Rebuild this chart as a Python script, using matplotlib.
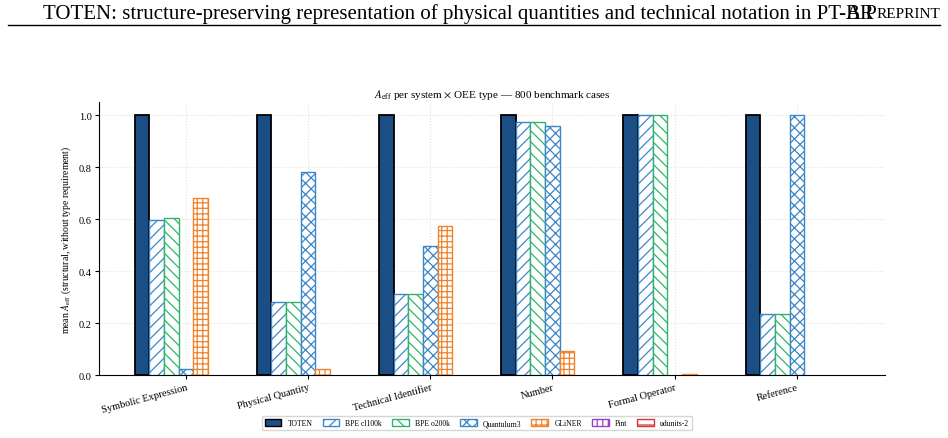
import numpy as np
import matplotlib
matplotlib.use("Agg")
import matplotlib.pyplot as plt
from matplotlib.lines import Line2D

plt.rcParams['font.family'] = ['Liberation Serif', 'DejaVu Serif']
plt.rcParams['mathtext.fontset'] = 'stix'
plt.rcParams['hatch.linewidth'] = 0.9

categories = ["Symbolic Expression", "Physical Quantity", "Technical Identifier",
              "Number", "Formal Operator", "Reference"]
systems = ["TOTEN", "BPE cl100k", "BPE o200k", "Quantulum3", "GLiNER", "Pint", "udunits-2"]

toten      = [1.0, 1.0, 1.0, 1.0, 1.0, 1.0]
bpe_cl100k = [0.596, 0.28, 0.31, 0.973, 1.0, 0.235]
bpe_o200k  = [0.603, 0.28, 0.31, 0.973, 1.0, 0.235]
quantulum3 = [0.025, 0.78, 0.495, 0.957, 0.0, 1.0]
gliner     = [0.683, 0.025, 0.572, 0.093, 0.004, 0.0]
pint       = [0.0, 0.0, 0.0, 0.0, 0.0, 0.0]
udunits2   = [0.0, 0.0, 0.0, 0.0, 0.0, 0.0]
series = [toten, bpe_cl100k, bpe_o200k, quantulum3, gliner, pint, udunits2]

colors = ["#1c4e86", "#3d87c9", "#2fb56a", "#3a86c8", "#f0832a", "#9a3fc9", "#d8383a"]
hatches = [None, "///", "\\\\\\", "xxx", "+++", "|||", "---"]

fig = plt.figure(figsize=(9.48, 4.39), dpi=100)
ax = fig.add_axes([0.104, 0.1435, 0.83, 0.6215])

x = np.arange(len(categories))
w = 0.12
handles = []
for i, (name, vals) in enumerate(zip(systems, series)):
    pos = x + (i - 3) * w
    vals = np.asarray(vals)
    if i == 0:
        b = ax.bar(pos, vals, w, color=colors[i], edgecolor="black", linewidth=1.3,
                   label=name, zorder=3)
    else:
        lws = np.where(vals > 0, 1.0, 0.0)
        b = ax.bar(pos, vals, w, facecolor="white", edgecolor=colors[i], hatch=hatches[i],
                   linewidth=lws, label=name, zorder=3)
    handles.append(b)

ax.set_xlim(-0.715, 5.725)
ax.set_ylim(0, 1.05)
ax.set_xticks(x)
ax.set_xticklabels(categories, rotation=15, ha="right", rotation_mode="anchor", fontsize=7.5)
ax.set_yticks([0, 0.2, 0.4, 0.6, 0.8, 1.0])
ax.set_yticklabels(["0.0", "0.2", "0.4", "0.6", "0.8", "1.0"], fontsize=7.5)
ax.tick_params(axis='x', length=3, pad=2)
ax.tick_params(axis='y', length=3, pad=2)
ax.spines['top'].set_visible(False)
ax.spines['right'].set_visible(False)
ax.grid(True, linestyle=":", color="#e2e2e2", linewidth=0.8, zorder=0)
ax.set_axisbelow(True)
ax.set_ylabel(r"mean $A_{\rm eff}$ (structural, without type requirement)", fontsize=7)
ax.set_title(r"$A_{\rm eff}$ per system $\times$ OEE type — 800 benchmark cases", fontsize=8, pad=4)

leg = fig.legend(handles=handles, labels=systems, loc="center", bbox_to_anchor=(0.503, 0.034),
                 ncol=7, fontsize=5.5, frameon=True, edgecolor="#cccccc", handlelength=2.2,
                 handleheight=0.9, columnspacing=1.3, borderpad=0.4)
for h in leg.legend_handles:
    h.set_linewidth(1.0)

# page header
fig.text(0.045, 0.968, "TOTEN: structure-preserving representation of physical quantities and technical notation in PT-BR",
         fontsize=15, ha="left", va="center")
t2 = fig.text(0.992, 0.968, "REPRINT", fontsize=11, ha="right", va="center")
fig.canvas.draw()
bb = t2.get_window_extent()
x0 = bb.x0 / fig.bbox.width
fig.text(x0, 0.968, "A P", fontsize=15, ha="right", va="center")
fig.add_artist(Line2D([0.008, 0.992], [0.94, 0.94], transform=fig.transFigure, color="black", linewidth=1.0))

fig.savefig("out.png", dpi=100)
